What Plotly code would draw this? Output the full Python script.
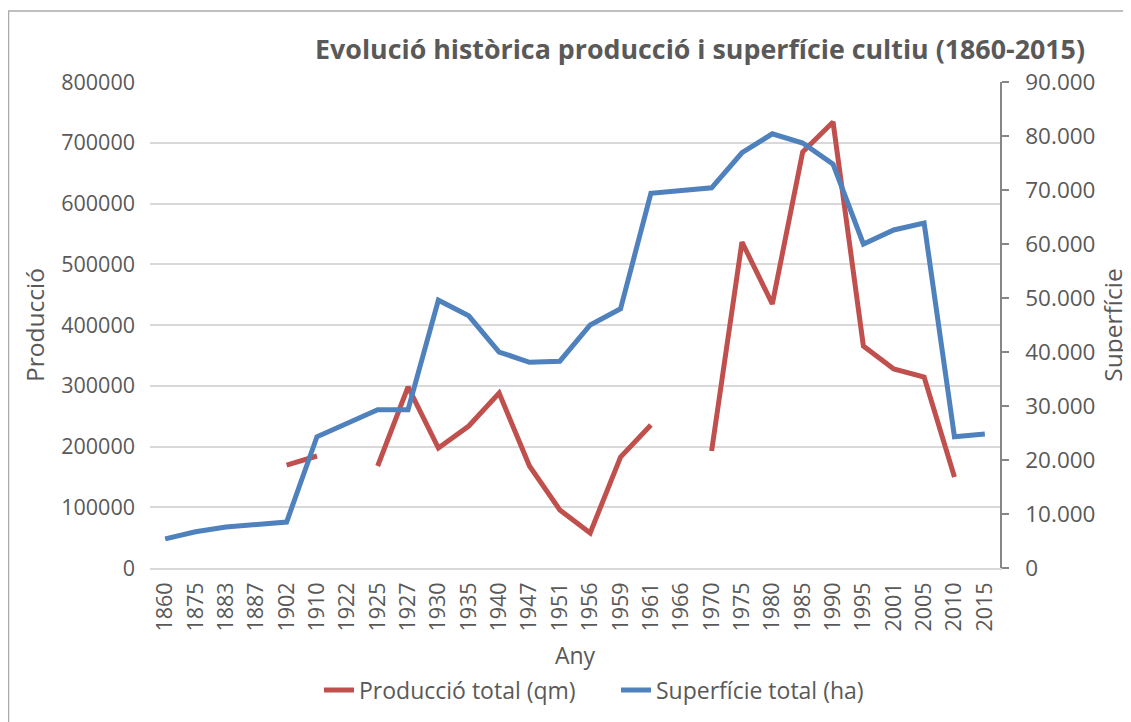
import plotly.graph_objects as go

years = ["1860", "1875", "1883", "1887", "1902", "1910", "1922", "1925", "1927", "1930",
         "1935", "1940", "1947", "1951", "1956", "1959", "1961", "1966", "1970", "1975",
         "1980", "1985", "1990", "1995", "2001", "2005", "2010", "2015"]

produccio = [None, None, None, None, 169500, 184400, None, 167900, 298000, 197500,
             233700, 288000, 168000, 95500, 57600, 182700, 235400, None, 192600, 536600,
             434600, 684800, 734300, 365400, 327600, 314400, 149800, None]

superficie = [5400, 6700, 7600, 8100, 8500, 24300, 26800, 29300, 29300, 49600,
              46700, 40000, 38100, 38300, 45000, 48000, 69400, 70000, 70400, 76900,
              80400, 78700, 74800, 60000, 62600, 63900, 24300, 24800]

FONT = "Open Sans, Lato, sans-serif"
GREY = "#595959"

W, H = 1123, 714
L, T, R, B = 142, 74, 131, 154
PW, PH = W - L - R, H - T - B

fig = go.Figure()
fig.add_trace(go.Scatter(x=years, y=produccio, name="Producció total (qm)", mode="lines",
                         line=dict(color="#C0504D", width=5), connectgaps=False, yaxis="y"))
fig.add_trace(go.Scatter(x=years, y=superficie, name="Superfície total (ha)", mode="lines",
                         line=dict(color="#4F81BD", width=5), connectgaps=False, yaxis="y2"))

fig.update_layout(
    width=W, height=H,
    paper_bgcolor="white", plot_bgcolor="white",
    separators=",.",
    font=dict(family=FONT, color=GREY, size=20),
    margin=dict(l=L, r=R, t=T, b=B, autoexpand=False),
    title=dict(text="<b>Evolució històrica producció i superfície cultiu (1860-2015)</b>",
               x=1077 / W, xanchor="right", y=1 - 42 / H, yanchor="middle",
               font=dict(size=26.8, color=GREY, family=FONT)),
    xaxis=dict(type="category", range=[-0.5, 27.5], tickangle=-90, showgrid=False, showline=True,
               linecolor="#d9d9d9", linewidth=1.5, ticks="", ticklabelstandoff=4,
               tickfont=dict(size=21.5, color=GREY),
               title=dict(text="Any", font=dict(size=23, color=GREY), standoff=17)),
    yaxis=dict(range=[0, 800000], dtick=100000, tickformat="d", showgrid=True,
               gridcolor="#d9d9d9", gridwidth=1.5, zeroline=False, showline=False,
               tickfont=dict(size=21.5, color=GREY), ticks="", ticklabelstandoff=14,
               title=dict(text="Producció", font=dict(size=24.5, color=GREY), standoff=9)),
    yaxis2=dict(range=[0, 90000], dtick=10000, tickformat=",d", overlaying="y", side="right",
                showgrid=False, zeroline=False, showline=True, linecolor="#868686", linewidth=1.5,
                ticks="outside", ticklen=7, tickcolor="#868686", tickwidth=1.5,
                ticklabelstandoff=12,
                tickfont=dict(size=22.5, color=GREY),
                title=dict(text="Superfície", font=dict(size=24.5, color=GREY), standoff=10)),
    legend=dict(orientation="h", x=(292 + 19 - L) / PW, xanchor="left", y=(PH + T - 682) / PH,
                yanchor="middle", font=dict(size=23, color=GREY), traceorder="normal",
                entrywidth=252, entrywidthmode="pixels"),
    shapes=[dict(type="rect", xref="paper", yref="paper",
                 x0=(0.5 - L) / PW, x1=1.3, y0=-0.6, y1=(PH + T - 3) / PH,
                 line=dict(color="#aaaaaa", width=1.5))],
)

fig.write_html("out.html")
